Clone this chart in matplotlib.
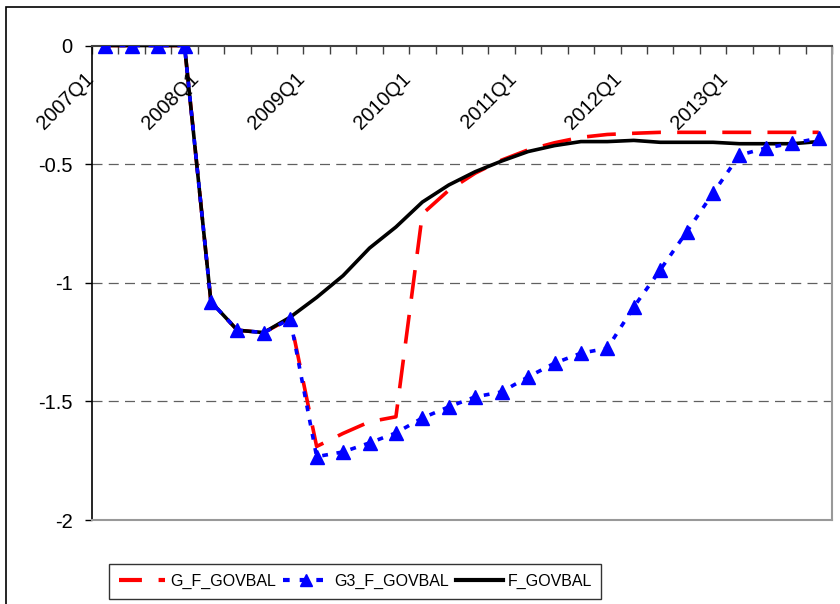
import numpy as np
import matplotlib.pyplot as plt
from matplotlib.lines import Line2D
from matplotlib.patches import Rectangle
from matplotlib.transforms import ScaledTranslation, blended_transform_factory

plt.rcParams['font.family'] = ['Liberation Sans', 'DejaVu Sans']

# === Data ===
quarters = [f"{y}Q{q}" for y in range(2007, 2014) for q in range(1, 5)]
label_every = 4

g_f_govbal = [0, 0, 0, 0, -1.08, -1.20, -1.21, -1.15,
              -1.69, -1.635, -1.586, -1.565, -0.71, -0.61, -0.538, -0.483,
              -0.44, -0.41, -0.387, -0.375, -0.37, -0.366, -0.366, -0.366,
              -0.366, -0.366, -0.366, -0.366]

g3_f_govbal = [0, 0, 0, 0, -1.08, -1.20, -1.21, -1.153,
               -1.733, -1.713, -1.675, -1.633, -1.570, -1.523, -1.481, -1.460,
               -1.397, -1.339, -1.297, -1.276, -1.102, -0.946, -0.786, -0.622,
               -0.462, -0.432, -0.412, -0.391]

f_govbal = [0, 0, 0, 0, -1.08, -1.20, -1.21, -1.145,
            -1.062, -0.970, -0.854, -0.765, -0.660, -0.588, -0.532, -0.487,
            -0.447, -0.422, -0.405, -0.405, -0.400, -0.408, -0.408, -0.408,
            -0.414, -0.414, -0.414, -0.405]

yticks = [0, -0.5, -1, -1.5, -2]
ytick_labels = ['0', '-0.5', '-1', '-1.5', '-2']

# === Figure ===
fig = plt.figure(figsize=(8.4, 6.04), dpi=100)
ax = fig.add_axes([92 / 840, 1 - 520 / 604, (832 - 92) / 840, (520 - 45.5) / 604])

x = np.arange(len(quarters))

ax.plot(x, g_f_govbal, color='#ff0000', lw=2.6, dashes=(8, 4.5), zorder=3,
        label='G_F_GOVBAL')
ax.plot(x, f_govbal, color='black', lw=2.6, zorder=4, label='F_GOVBAL')
ax.plot(x, g3_f_govbal, color='#0000ff', lw=2.6, dashes=(1.6, 2.4), marker='^',
        markersize=9.5, zorder=5, label='G3_F_GOVBAL')

ax.set_xlim(-0.5, len(quarters) - 0.5)
ax.set_ylim(-2, 0)

# gridlines
for yv in yticks[1:-1]:
    ax.axhline(yv, color='#606060', lw=0.9, dashes=(8, 5), zorder=1)

# axes lines
for s in ['bottom', 'right']:
    ax.spines[s].set_color('#999999')
    ax.spines[s].set_linewidth(1.5)
ax.spines['left'].set_color('black')
ax.spines['left'].set_linewidth(1.2)
ax.spines['top'].set_color('#404040')
ax.spines['top'].set_linewidth(1.5)

ax.set_yticks(yticks)
ax.set_yticklabels(ytick_labels, fontsize=14.5)
ax.tick_params(axis='y', direction='out', length=5, width=1, pad=9)

ax.xaxis.tick_top()
ax.set_xticks(np.arange(len(quarters) + 1) - 0.5)
ax.set_xticklabels([])
ax.tick_params(axis='x', direction='in', length=6, width=1, colors='#404040')

# rotated category labels under the top axis
trans = blended_transform_factory(ax.transData, ax.transAxes) + \
    ScaledTranslation(-8 / 100, -24 / 100, fig.dpi_scale_trans)
for i in range(0, len(quarters), label_every):
    ax.text(i, 1, quarters[i], rotation=45, ha='right', va='top',
            fontsize=14.5, transform=trans)

# legend
handles = [
    Line2D([], [], color='#ff0000', lw=3, dashes=(5.5, 4)),
    Line2D([], [], color='#0000ff', lw=3, dashes=(1.6, 2.4), marker='^', markersize=9),
    Line2D([], [], color='black', lw=3),
]
labels = ['G_F_GOVBAL', 'G3_F_GOVBAL', 'F_GOVBAL']
leg = fig.legend(handles, labels, loc='center', bbox_to_anchor=(0.423, 0.037),
                 ncol=3, fontsize=11.5, frameon=True, fancybox=False,
                 handlelength=2.9, handletextpad=0.3, columnspacing=0.45,
                 borderpad=0.6, borderaxespad=0, edgecolor='black')
leg.get_frame().set_linewidth(1.0)

# outer chart frame
fig.patches.append(Rectangle((6 / 840, -0.05), 1.0, 1 - 7 / 604 + 0.05,
                             transform=fig.transFigure, fill=False,
                             edgecolor='black', lw=1.2))

fig.savefig('out.png', dpi=100)
